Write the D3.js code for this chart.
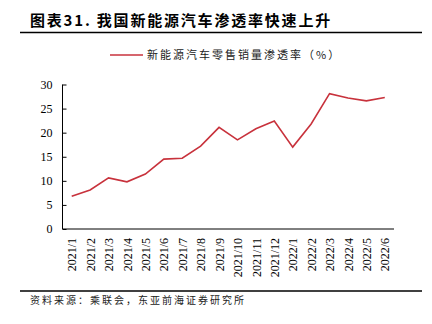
<!DOCTYPE html>
<html><head><meta charset="utf-8">
<script src="https://cdn.jsdelivr.net/npm/d3@7"></script>
<style>
body{margin:0;background:#fff;}
svg{display:block;}
</style></head>
<body>
<svg id="c" width="432" height="324"></svg>
<script>
const categories = ["2021/1","2021/2","2021/3","2021/4","2021/5","2021/6","2021/7","2021/8","2021/9","2021/10","2021/11","2021/12","2022/1","2022/2","2022/3","2022/4","2022/5","2022/6"];
const penetration = [6.8,8.1,10.6,9.8,11.4,14.5,14.7,17.2,21.1,18.5,20.8,22.4,17.0,21.8,28.1,27.2,26.6,27.3];
const yTicks = [0,5,10,15,20,25,30];
const titleText = "图表31. 我国新能源汽车渗透率快速上升";
const legendText = "新能源汽车零售销量渗透率（%）";
const sourceText = "资料来源：乘联会，东亚前海证券研究所";

const svg = d3.select("#c");
const pLeft = 62.5, pRight = 394, pTop = 84.5, pBottom = 229;
const x = d3.scalePoint().domain(categories).range([pLeft, pRight]).padding(0.5);
const y = d3.scaleLinear().domain([0,30]).range([pBottom, pTop]);
const serif = "'Liberation Serif','Times New Roman',serif";
const cjk = "'Noto Sans CJK SC','Noto Sans',sans-serif";

// title
svg.append("text").attr("x",30).attr("y",26).attr("font-family",cjk).attr("font-weight","bold")
  .attr("font-size",15).attr("letter-spacing",1.8).attr("fill","#000").text(titleText);
svg.append("line").attr("x1",20).attr("x2",422).attr("y1",32.5).attr("y2",32.5).attr("stroke","#000").attr("stroke-width",1.5);

// legend
svg.append("line").attr("x1",110).attr("x2",143).attr("y1",55).attr("y2",55).attr("stroke","#C8323C").attr("stroke-width",1.5);
svg.append("text").attr("x",147).attr("y",59).attr("font-family",cjk).attr("font-size",11)
  .attr("letter-spacing",2).attr("fill","#222").text(legendText);

// y axis
const ya = svg.append("g").attr("transform",`translate(${pLeft},0)`)
  .call(d3.axisRight(y).tickValues(yTicks).tickSize(4).tickFormat(d3.format("d")));
ya.select(".domain").attr("stroke","#000").attr("d",`M0,${pTop}V${pBottom}`);
ya.selectAll(".tick line").attr("stroke","#000");
ya.selectAll(".tick text").attr("x",-10).attr("text-anchor","end").attr("font-family",serif).attr("font-size",12).attr("fill","#000");

// x axis
const xa = svg.append("g").attr("transform",`translate(0,${pBottom})`)
  .call(d3.axisBottom(x).tickSize(0));
xa.select(".domain").attr("stroke","#000").attr("d",`M${pLeft},0H${pRight}`);
xa.selectAll(".tick text").attr("font-family",serif).attr("font-size",12).attr("fill","#000")
  .attr("transform","rotate(-90)").attr("text-anchor","end").attr("x",-9).attr("y",0).attr("dy","0.35em");

// line
const line = d3.line().x((d,i)=>x(categories[i])).y(d=>y(d));
svg.append("path").datum(penetration).attr("d",line).attr("fill","none").attr("stroke","#C8323C").attr("stroke-width",1.6).attr("stroke-linejoin","miter");

// source
svg.append("line").attr("x1",20).attr("x2",422).attr("y1",291).attr("y2",291).attr("stroke","#000").attr("stroke-width",1.5);
svg.append("text").attr("x",30).attr("y",304).attr("font-family",cjk).attr("font-size",10)
  .attr("letter-spacing",2).attr("fill","#222").text(sourceText);
</script>
</body></html>
